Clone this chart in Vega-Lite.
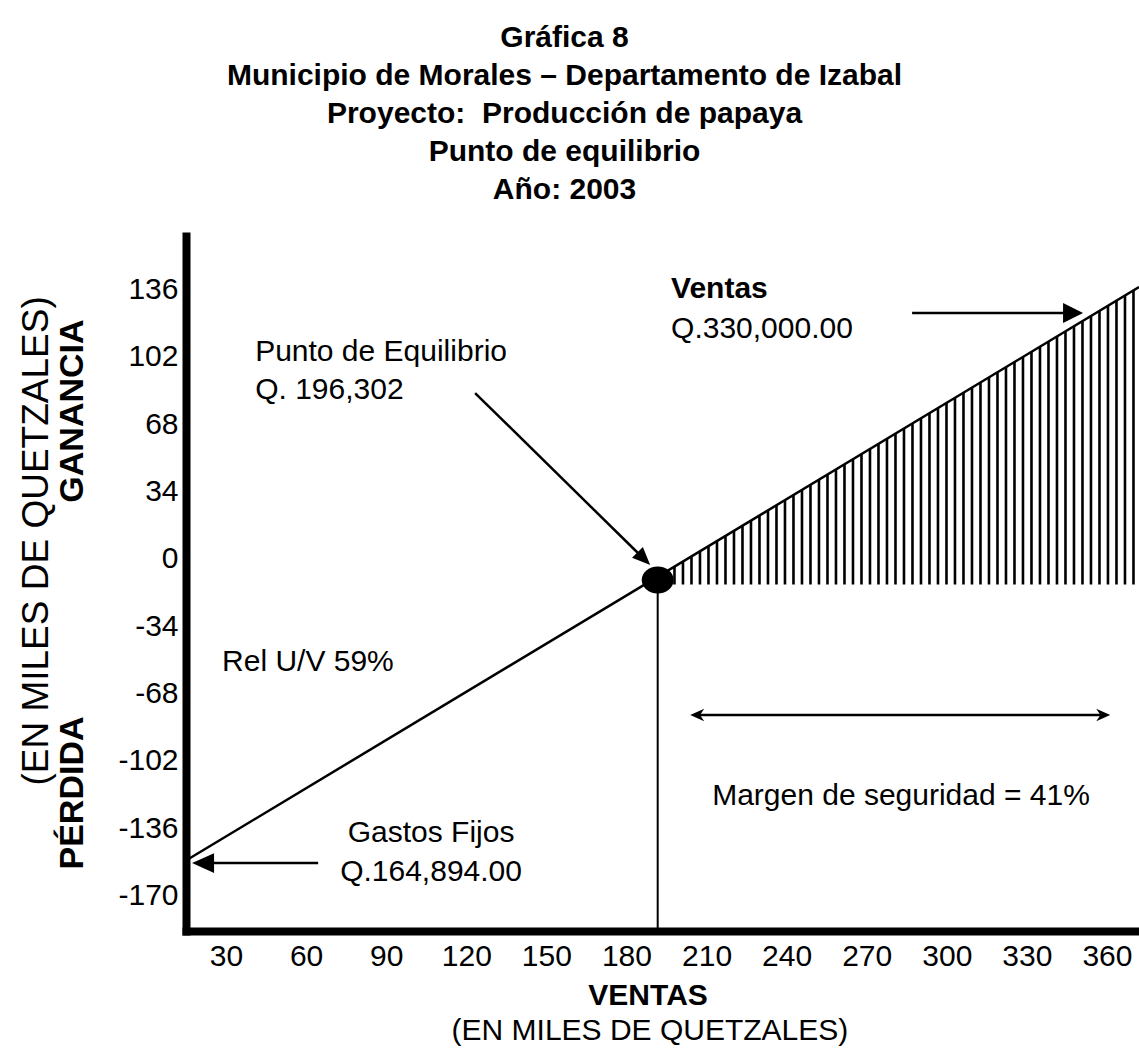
{
  "$schema": "https://vega.github.io/schema/vega-lite/v6.json",
  "width": 953,
  "height": 695,
  "autosize": {"type": "none"},
  "padding": {"left": 186, "top": 236, "right": 0, "bottom": 128},
  "background": "white",
  "config": {"view": {"stroke": null}, "font": "Liberation Sans"},
  "title": {
    "text": ["Gráfica 8", "Municipio de Morales – Departamento de Izabal", "Proyecto:\u00a0 Producción de papaya", "Punto de equilibrio", "Año: 2003"],
    "font": "Liberation Sans",
    "fontSize": 30,
    "fontWeight": "bold",
    "color": "black",
    "lineHeight": 38,
    "anchor": "middle",
    "frame": "group",
    "dx": -98,
    "offset": 25
  },
  "datasets": {
    "ventas": [{"x": 15, "y": -152.4}, {"x": 372, "y": 137.2}],
    "franja": [{"x": 197.5, "x2": 372, "y": 63.5}],
    "mascara": [{"x": 195, "y": -6.4, "y2": 166}, {"x": 372, "y": 137.2, "y2": 166}],
    "equilibrio": [{"x": 191.7, "y": -10.7}],
    "vertical": [{"x": 191.7, "y": -13, "y2": -188}],
    "flechas": [
      {"x": 123.3, "y": 83.7, "x2": 186.5, "y2": 0.0},
      {"x": 287.0, "y": 124.1, "x2": 347.3, "y2": 124.1},
      {"x": 64.5, "y": -153.7, "x2": 21.4, "y2": -153.7},
      {"x": 206.5, "y": -78.9, "x2": 358.6, "y2": -78.9}
    ],
    "puntas": [
      {"x": 186.5, "y": 0.0, "forma": "M0,-1L0.85,1L-0.85,1Z", "tam": 324, "ang": 135},
      {"x": 347.3, "y": 124.1, "forma": "M0,-1L1,1L-1,1Z", "tam": 400, "ang": 90},
      {"x": 21.4, "y": -153.7, "forma": "M0,-1L0.9,1L-0.9,1Z", "tam": 484, "ang": 270},
      {"x": 206.5, "y": -78.9, "forma": "M0,-1L0.9,1L0,0.4L-0.9,1Z", "tam": 196, "ang": 270},
      {"x": 358.6, "y": -78.9, "forma": "M0,-1L0.9,1L0,0.4L-0.9,1Z", "tam": 196, "ang": 90}
    ],
    "textoIzq": [
      {"x": 40.9, "y": 99.9, "t": "Punto de Equilibrio"},
      {"x": 40.9, "y": 80.7, "t": "Q. 196,302"},
      {"x": 196.7, "y": 111.5, "t": "Q.330,000.00"},
      {"x": 28.5, "y": -56.7, "t": "Rel U/V 59%"},
      {"x": 212.1, "y": -124.4, "t": "Margen de seguridad = 41%"}
    ],
    "textoIzqNegrita": [{"x": 196.7, "y": 131.7, "t": "Ventas"}],
    "textoCentro": [
      {"x": 106.8, "y": -143.1, "t": "Gastos Fijos"},
      {"x": 106.8, "y": -162.8, "t": "Q.164,894.00"},
      {"x": 188.8, "y": -243.1, "t": "(EN MILES DE QUETZALES)"}
    ],
    "textoCentroNegrita": [{"x": 188.1, "y": -225.4, "t": "VENTAS"}],
    "textoVertical": [{"x": -40.8, "y": 9.0, "t": "(EN MILES DE QUETZALES)"}],
    "textoVerticalNegrita": [
      {"x": -27.3, "y": 74.6, "t": "GANANCIA"},
      {"x": -27.3, "y": -118.3, "t": "PÉRDIDA"}
    ]
  },
  "layer": [
    {
      "data": {"name": "franja"},
      "mark": {"type": "rule", "color": "black", "strokeWidth": 303, "strokeDash": [2.6, 5.9], "strokeCap": "butt"},
      "encoding": {
        "x": {"field": "x", "type": "quantitative", "title": null,
          "scale": {"domain": [15, 372], "nice": false, "zero": false},
          "axis": {"values": [30, 60, 90, 120, 150, 180, 210, 240, 270, 300, 330, 360], "title": null, "grid": false,
            "ticks": false, "tickSize": 0, "labelPadding": 10, "labelFontSize": 30, "labelFont": "Liberation Sans", "labelColor": "black",
            "labelFlush": false, "labelOverlap": false, "domain": true, "domainColor": "black", "domainWidth": 8, "domainCap": "square",
            "labelExpr": "'' + datum.value"}},
        "x2": {"field": "x2"},
        "y": {"field": "y", "type": "quantitative", "title": null,
          "scale": {"domain": [-188, 163], "nice": false, "zero": false},
          "axis": {"values": [136, 102, 68, 34, 0, -34, -68, -102, -136, -170], "title": null, "grid": false,
            "ticks": false, "tickSize": 0, "labelPadding": 8, "labelFontSize": 30, "labelFont": "Liberation Sans", "labelColor": "black",
            "labelFlush": false, "labelOverlap": false, "domain": true, "domainColor": "black", "domainWidth": 8, "domainCap": "square",
            "labelExpr": "'' + datum.value"}}
      }
    },
    {
      "data": {"name": "mascara"},
      "mark": {"type": "area", "color": "white", "opacity": 1},
      "encoding": {
        "x": {"field": "x", "type": "quantitative", "title": null},
        "y": {"field": "y", "type": "quantitative", "title": null},
        "y2": {"field": "y2"}
      }
    },
    {
      "data": {"name": "ventas"},
      "mark": {"type": "line", "color": "black", "strokeWidth": 2.5},
      "encoding": {
        "x": {"field": "x", "type": "quantitative", "title": null},
        "y": {"field": "y", "type": "quantitative", "title": null}
      }
    },
    {
      "mark": {"type": "rule", "color": "black", "strokeWidth": 5},
      "encoding": {"y": {"datum": -13}}
    },
    {
      "mark": {"type": "rule", "color": "black", "strokeWidth": 4},
      "encoding": {"y": {"datum": 163}}
    },
    {
      "data": {"name": "vertical"},
      "mark": {"type": "rule", "color": "black", "strokeWidth": 2},
      "encoding": {
        "x": {"field": "x", "type": "quantitative", "title": null},
        "y": {"field": "y", "type": "quantitative", "title": null},
        "y2": {"field": "y2"}
      }
    },
    {
      "data": {"name": "equilibrio"},
      "mark": {"type": "point", "filled": true, "color": "black", "opacity": 1, "size": 1024,
        "shape": "M-1,0A1,0.84,0,1,0,1,0A1,0.84,0,1,0,-1,0Z"},
      "encoding": {
        "x": {"field": "x", "type": "quantitative", "title": null},
        "y": {"field": "y", "type": "quantitative", "title": null}
      }
    },
    {
      "data": {"name": "flechas"},
      "mark": {"type": "rule", "color": "black", "strokeWidth": 2.5},
      "encoding": {
        "x": {"field": "x", "type": "quantitative", "title": null},
        "y": {"field": "y", "type": "quantitative", "title": null},
        "x2": {"field": "x2"},
        "y2": {"field": "y2"}
      }
    },
    {
      "data": {"name": "puntas"},
      "mark": {"type": "point", "filled": true, "color": "black", "opacity": 1, "strokeWidth": 0},
      "encoding": {
        "x": {"field": "x", "type": "quantitative", "title": null},
        "y": {"field": "y", "type": "quantitative", "title": null},
        "shape": {"field": "forma", "type": "nominal", "scale": null, "legend": null},
        "size": {"field": "tam", "type": "quantitative", "scale": null, "legend": null},
        "angle": {"field": "ang", "type": "quantitative", "scale": null}
      }
    },
    {
      "data": {"name": "textoIzq"},
      "mark": {"type": "text", "align": "left", "baseline": "alphabetic", "fontSize": 30, "font": "Liberation Sans", "color": "black"},
      "encoding": {
        "x": {"field": "x", "type": "quantitative", "title": null},
        "y": {"field": "y", "type": "quantitative", "title": null},
        "text": {"field": "t"}
      }
    },
    {
      "data": {"name": "textoIzqNegrita"},
      "mark": {"type": "text", "align": "left", "baseline": "alphabetic", "fontSize": 30, "fontWeight": "bold", "font": "Liberation Sans", "color": "black"},
      "encoding": {
        "x": {"field": "x", "type": "quantitative", "title": null},
        "y": {"field": "y", "type": "quantitative", "title": null},
        "text": {"field": "t"}
      }
    },
    {
      "data": {"name": "textoCentro"},
      "mark": {"type": "text", "align": "center", "baseline": "alphabetic", "fontSize": 30, "font": "Liberation Sans", "color": "black"},
      "encoding": {
        "x": {"field": "x", "type": "quantitative", "title": null},
        "y": {"field": "y", "type": "quantitative", "title": null},
        "text": {"field": "t"}
      }
    },
    {
      "data": {"name": "textoCentroNegrita"},
      "mark": {"type": "text", "align": "center", "baseline": "alphabetic", "fontSize": 30, "fontWeight": "bold", "font": "Liberation Sans", "color": "black"},
      "encoding": {
        "x": {"field": "x", "type": "quantitative", "title": null},
        "y": {"field": "y", "type": "quantitative", "title": null},
        "text": {"field": "t"}
      }
    },
    {
      "data": {"name": "textoVertical"},
      "mark": {"type": "text", "align": "center", "baseline": "middle", "angle": 270, "fontSize": 37, "font": "Liberation Sans", "color": "black"},
      "encoding": {
        "x": {"field": "x", "type": "quantitative", "title": null},
        "y": {"field": "y", "type": "quantitative", "title": null},
        "text": {"field": "t"}
      }
    },
    {
      "data": {"name": "textoVerticalNegrita"},
      "mark": {"type": "text", "align": "center", "baseline": "middle", "angle": 270, "fontSize": 34, "fontWeight": "bold", "font": "Liberation Sans", "color": "black"},
      "encoding": {
        "x": {"field": "x", "type": "quantitative", "title": null},
        "y": {"field": "y", "type": "quantitative", "title": null},
        "text": {"field": "t"}
      }
    }
  ]
}
